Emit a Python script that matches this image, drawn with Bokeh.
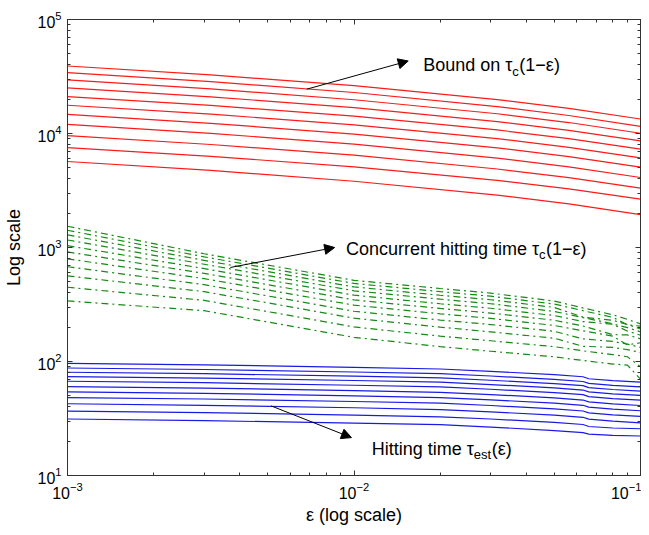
from bokeh.plotting import figure
from bokeh.models import (LogAxis, Label, Arrow, NormalHead, Range1d,
                          CustomJSTickFormatter, FixedTicker, LogTickFormatter)
from bokeh.embed import file_html
from bokeh.resources import INLINE

# ---------------- data ----------------
eps_red = [0.001, 0.003162, 0.01, 0.03162, 0.05623, 0.1]
bound_red = [
    [39100, 32675, 26250, 19825, 16610, 13400],
    [34200, 28540, 22880, 17220, 14390, 11560],
    [29500, 24640, 19780, 14910, 12480, 10050],
    [25100, 20980, 16860, 12730, 10670, 8610],
    [21100, 17650, 14190, 10740, 9010, 7280],
    [17700, 14800, 11910, 9010, 7560, 6110],
    [14700, 12290, 9890, 7480, 6270, 5070],
    [12000, 10030, 8060, 6080, 5100, 4110],
    [9570, 8010, 6450, 4880, 4100, 3320],
    [7520, 6310, 5090, 3880, 3270, 2660],
    [5680, 4750, 3810, 2880, 2410, 1940],
]

eps_green = [0.001, 0.003, 0.01, 0.02, 0.03, 0.05, 0.063, 0.08, 0.09, 0.1]
concurrent_green = [
    [1535, 881, 515, 437, 398, 339, 295, 257, 234, 214],
    [1416, 828, 484, 410, 374, 319, 279, 244, 210, 204],
    [1291, 771, 451, 381, 348, 298, 245, 230, 211, 193],
    [1164, 713, 417, 352, 321, 275, 243, 214, 198, 182],
    [1038, 653, 382, 321, 293, 253, 224, 212, 185, 170],
    [914, 593, 347, 292, 266, 230, 205, 172, 171, 158],
    [796, 533, 312, 262, 239, 207, 186, 167, 140, 146],
    [678, 472, 276, 231, 211, 184, 158, 150, 142, 133],
    [564, 410, 240, 200, 182, 160, 136, 133, 127, 120],
    [448, 344, 201, 167, 152, 135, 124, 115, 110, 90],
    [340, 279, 163, 135, 123, 110, 102, 95, 93, 70],
]

eps_blue = [0.001, 0.003, 0.01, 0.02, 0.03, 0.05, 0.063, 0.066, 0.08, 0.1]
hitting_blue = [
    [96.4, 93.5, 88.9, 85.9, 82.0, 76.6, 73.5, 70.6, 67.9, 65.8],
    [87.7, 85.1, 80.9, 78.2, 74.6, 69.7, 66.8, 64.3, 61.8, 59.8],
    [80.5, 78.2, 74.3, 71.8, 68.5, 64.0, 61.4, 59.0, 56.8, 55.0],
    [73.8, 71.6, 68.1, 65.8, 62.8, 58.6, 56.2, 54.1, 52.0, 50.4],
    [67.1, 65.2, 61.9, 59.8, 57.1, 53.3, 51.2, 49.2, 47.3, 45.8],
    [60.3, 58.5, 55.6, 53.7, 51.3, 47.9, 45.9, 44.2, 42.5, 41.1],
    [54.2, 52.6, 50.0, 48.3, 46.1, 43.1, 41.3, 39.8, 38.2, 37.0],
    [48.3, 46.9, 44.6, 43.1, 41.1, 38.4, 36.8, 35.4, 34.0, 33.0],
    [42.6, 41.3, 39.3, 37.9, 36.2, 33.8, 32.4, 31.2, 30.0, 29.0],
    [36.7, 35.6, 33.9, 32.7, 31.3, 29.2, 28.0, 26.9, 26.1, 25.7],
    [31.3, 30.3, 28.8, 27.9, 26.6, 24.8, 23.8, 23.1, 22.5, 22.2],
]

x_ticks = [0.001, 0.01, 0.1]
y_ticks = [10, 100, 1000, 10000, 100000]
x_minor = [m * t for t in x_ticks[:-1] for m in range(2, 10)]
y_minor = [m * t for t in y_ticks[:-1] for m in range(2, 10)]

FONT = "Liberation Sans"
AX = "#333333"

p = figure(width=641, height=527, x_axis_type="log", y_axis_type="log",
           x_range=Range1d(0.001, 0.1), y_range=Range1d(10, 100000),
           output_backend="svg", toolbar_location=None,
           min_border_left=67, min_border_right=1, min_border_top=19,
           min_border_bottom=50, background_fill_color="white",
           border_fill_color="white", outline_line_color=AX)
p.grid.visible = False

p.xaxis[0].ticker = FixedTicker(ticks=x_ticks, minor_ticks=x_minor)
p.yaxis[0].ticker = FixedTicker(ticks=y_ticks, minor_ticks=y_minor)
p.xaxis[0].formatter = LogTickFormatter()
p.yaxis[0].formatter = LogTickFormatter()

for ax in (p.xaxis[0], p.yaxis[0]):
    ax.major_tick_in = 5
    ax.major_tick_out = 0
    ax.minor_tick_in = 3
    ax.minor_tick_out = 0
    ax.axis_line_color = AX
    ax.major_tick_line_color = AX
    ax.minor_tick_line_color = AX
    ax.major_label_text_font = FONT
    ax.major_label_text_font_size = "16px"
    ax.major_label_text_color = "black"
    ax.axis_label_text_font = FONT
    ax.axis_label_text_font_size = "18px"
    ax.axis_label_text_font_style = "normal"
    ax.axis_label_text_color = "black"

p.xaxis.axis_label = "ε (log scale)"
p.xaxis.major_label_standoff = 6
p.xaxis.axis_label_standoff = 3
p.yaxis.axis_label = "Log scale"
p.yaxis.major_label_standoff = 6
p.yaxis.axis_label_standoff = 10

blank = CustomJSTickFormatter(code="return ''")
for side, ticks, minor in (("above", x_ticks, x_minor), ("right", y_ticks, y_minor)):
    ax = LogAxis(formatter=blank, ticker=FixedTicker(ticks=ticks, minor_ticks=minor),
                 major_tick_in=5, major_tick_out=0,
                 minor_tick_in=3, minor_tick_out=0, axis_line_color=AX,
                 major_tick_line_color=AX, minor_tick_line_color=AX,
                 major_label_standoff=0, major_label_text_font_size="0px")
    p.add_layout(ax, side)

for ys in bound_red:
    p.line(eps_red, ys, line_color="#ff1a1a", line_width=1.2)
for ys in concurrent_green:
    p.line(eps_green, ys, line_color="#158a15", line_width=1.2,
           line_dash="7 4 2 4")
for ys in hitting_blue:
    p.line(eps_blue, ys, line_color="#1a1ae6", line_width=1.2)

# ---------------- annotations ----------------
head = dict(size=10, fill_color="black", line_color="black")
p.add_layout(Arrow(end=NormalHead(**head), x_start=0.00684, y_start=24480,
                   x_end=0.01546, y_end=43250, line_color="black", line_width=1))
p.add_layout(Arrow(end=NormalHead(**head), x_start=0.003702, y_start=668,
                   x_end=0.00856, y_end=1000, line_color="black", line_width=1))
p.add_layout(Arrow(end=NormalHead(**head), x_start=0.005136, y_start=40.8,
                   x_end=0.0098, y_end=21.5, line_color="black", line_width=1))


def tau_label(x, y, main, sub, tail, sub_w):
    common = dict(text_font=FONT, text_color="black", text_baseline="alphabetic")
    p.add_layout(Label(x=x, y=y, text=main, text_align="right",
                       text_font_size="18px", **common))
    p.add_layout(Label(x=x, y=y, y_offset=-6, text=sub, text_align="left",
                       text_font_size="13px", **common))
    p.add_layout(Label(x=x, y=y, x_offset=sub_w, text=tail, text_align="left",
                       text_font_size="18px", **common))


tau_label(0.0357, 39630, "Bound on τ", "c", "(1−ε)", 7)
tau_label(0.04426, 980, "Concurrent hitting time τ", "c", "(1−ε)", 7)
tau_label(0.0262, 17.2, "Hitting time τ", "est", "(ε)", 18)

open("out.html", "w").write(file_html(p, INLINE))
